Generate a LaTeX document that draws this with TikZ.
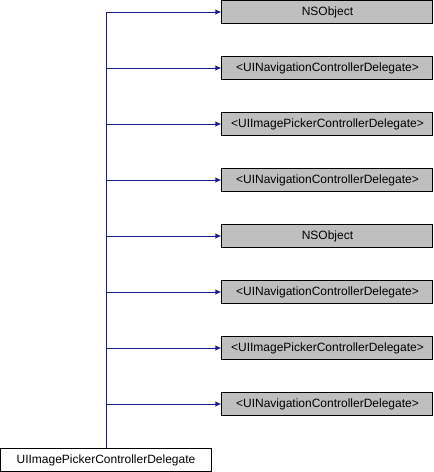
\documentclass[tikz,border=0pt]{standalone}
\usepackage{fontspec}
\setmainfont{Liberation Sans}
\usetikzlibrary{positioning,arrows.meta}
\definecolor{edgeblue}{RGB}{25,25,145}
\definecolor{boxgrey}{RGB}{191,191,191}

\begin{document}
\begin{tikzpicture}[>={Latex[length=4.5pt,width=4pt]}, node distance=24pt, every node/.style={font=\fontsize{9pt}{11pt}\selectfont}]
  % box styles
  \tikzset{base/.style={draw, fill=boxgrey, minimum width=158.25pt, minimum height=17.25pt, inner sep=0pt, line width=0.75pt},
           leaf/.style={draw, fill=white, minimum width=158.25pt, minimum height=17.25pt, inner sep=0pt, line width=0.75pt},
           edge/.style={->, draw=edgeblue, line width=0.75pt}}

  \useasboundingbox (0,0) rectangle (325.5pt,-354pt);

  % base classes, top to bottom
  \node[base] (ns1) at (245.6pt,-9pt) {NSObject};
  \node[base, below=of ns1] (nav1) {<UINavigationControllerDelegate>};
  \node[base, below=of nav1] (pick1) {<UIImagePickerControllerDelegate>};
  \node[base, below=of pick1] (nav2) {<UINavigationControllerDelegate>};
  \node[base, below=of nav2] (ns2) {NSObject};
  \node[base, below=of ns2] (nav3) {<UINavigationControllerDelegate>};
  \node[base, below=of nav3] (pick2) {<UIImagePickerControllerDelegate>};
  \node[base, below=of pick2] (nav4) {<UINavigationControllerDelegate>};

  % derived class
  \node[leaf] (delegate) at (79.5pt,-345pt) {UIImagePickerControllerDelegate};

  % inheritance edges
  \draw[edge] (delegate.north) |- (ns1.west);
  \draw[edge] (delegate.north) |- (nav1.west);
  \draw[edge] (delegate.north) |- (pick1.west);
  \draw[edge] (delegate.north) |- (nav2.west);
  \draw[edge] (delegate.north) |- (ns2.west);
  \draw[edge] (delegate.north) |- (nav3.west);
  \draw[edge] (delegate.north) |- (pick2.west);
  \draw[edge] (delegate.north) |- (nav4.west);
\end{tikzpicture}
\end{document}
